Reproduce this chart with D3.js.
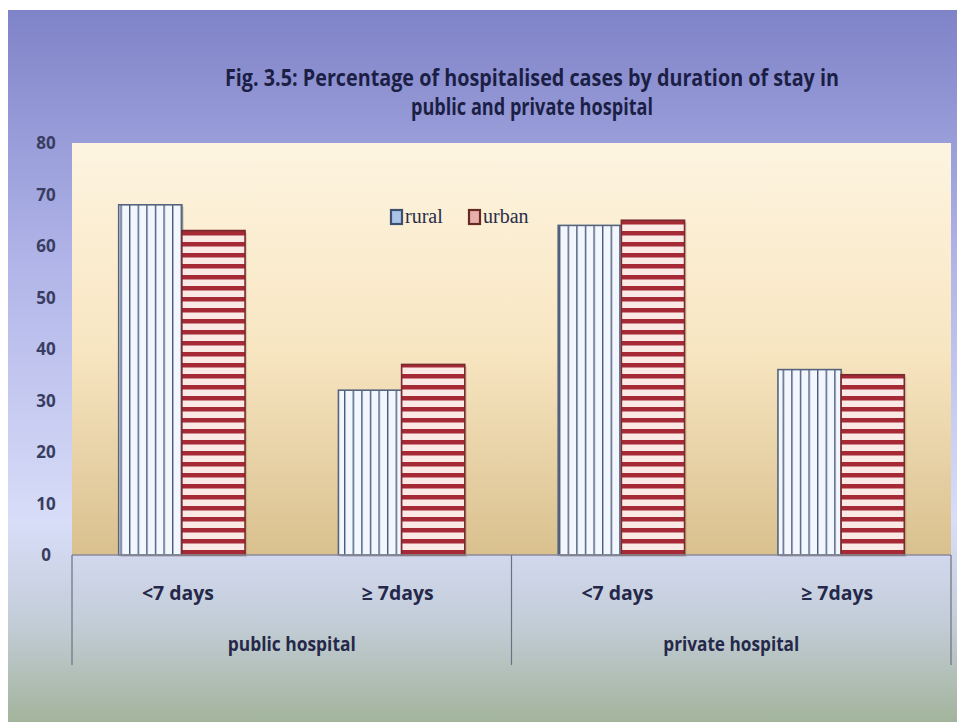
<!DOCTYPE html>
<html><head><meta charset="utf-8">
<script src="https://cdn.jsdelivr.net/npm/d3@7/dist/d3.min.js"></script>
<style>body{margin:0;background:#fff}svg{display:block}</style>
</head><body>
<svg id="c" width="957" height="722"></svg>
<script>
const groups = ["public hospital", "private hospital"];
const categories = ["<7 days", "≥ 7days", "<7 days", "≥ 7days"];
const series = ["rural", "urban"];
const rural = [68, 32, 64, 36];
const urban = [63, 37, 65, 35];
const yTicks = [0, 10, 20, 30, 40, 50, 60, 70, 80];
const titleLines = ["Fig. 3.5: Percentage of hospitalised cases by duration of stay in", "public and private hospital"];

const svg = d3.select("#c");
const W = 957, H = 722;
const F = "'Liberation Sans Narrow','Open Sans',sans-serif";
const defs = svg.append("defs");

// backgrounds
const bg = defs.append("linearGradient").attr("id","bg").attr("x1",0).attr("y1",0).attr("x2",0).attr("y2",1);
[[0,"#7f83c8"],[0.35,"#b0b4e8"],[0.72,"#d8ddf8"],[0.86,"#c3cdd8"],[1,"#a3b49c"]].forEach(s=>bg.append("stop").attr("offset",s[0]).attr("stop-color",s[1]));
const pg = defs.append("linearGradient").attr("id","pg").attr("x1",0).attr("y1",0).attr("x2",0).attr("y2",1);
[[0,"#fdf4e0"],[0.5,"#f8e6c2"],[1,"#d9c08e"]].forEach(s=>pg.append("stop").attr("offset",s[0]).attr("stop-color",s[1]));

// patterns
const pr = defs.append("pattern").attr("id","pRural").attr("patternUnits","userSpaceOnUse").attr("width",8.6).attr("height",10);
pr.append("rect").attr("width",8.6).attr("height",10).attr("fill","#f2f7fd");
pr.append("rect").attr("x",0).attr("width",1.4).attr("height",10).attr("fill","#4a5a7c");
const pu = defs.append("pattern").attr("id","pUrban").attr("patternUnits","userSpaceOnUse").attr("width",10).attr("height",11);
pu.append("rect").attr("width",10).attr("height",11).attr("fill","#fbe9e6");
pu.append("rect").attr("y",0).attr("width",10).attr("height",4.5).attr("fill","#a52a36");
const patt = {rural:"url(#pRural)", urban:"url(#pUrban)"};
const stroke = {rural:"#56647e", urban:"#7a2a2e"};

svg.append("rect").attr("x",8).attr("y",10).attr("width",W-8).attr("height",H-10).attr("fill","url(#bg)");

const x0 = 72, x1 = 951, yTop = 143, yBot = 555;
svg.append("rect").attr("x",x0).attr("y",yTop).attr("width",x1-x0).attr("height",yBot-yTop).attr("fill","url(#pg)");

const y = d3.scaleLinear().domain([0,80]).range([yBot, yTop]);
const x = d3.scaleBand().domain(d3.range(categories.length)).range([x0, x1]).paddingInner(0.425).paddingOuter(0.2125);
const xs = d3.scaleBand().domain(series).range([0, x.bandwidth()]);

// title
svg.append("g").selectAll("text").data(titleLines).join("text")
  .attr("x",532).attr("y",(d,i)=>86+i*29).attr("text-anchor","middle")
  .attr("font-family",F).attr("font-weight","bold").attr("font-size",23).attr("fill","#1c1f45")
  .attr("textLength",(d,i)=>i===0?614:242).attr("lengthAdjust","spacingAndGlyphs").text(d=>d);

// y axis labels
svg.append("g").selectAll("text").data(yTicks).join("text")
  .attr("x",46).attr("y",d=>y(d)+6).attr("text-anchor","middle")
  .attr("font-family",F).attr("font-weight","bold").attr("font-size",17).attr("fill","#3a3d62").text(d=>d);

// bars
const data = [];
categories.forEach((c,i)=>{ data.push({i, s:"rural", v:rural[i]}); data.push({i, s:"urban", v:urban[i]}); });
svg.append("g").selectAll("rect").data(data).join("rect")
  .attr("x",d=>x(d.i)+xs(d.s)+2).attr("y",d=>y(d.v)+2).attr("width",xs.bandwidth()).attr("height",d=>y(0)-y(d.v))
  .attr("fill","rgba(90,70,40,0.18)");
svg.append("g").selectAll("rect").data(data).join("rect")
  .attr("x",d=>x(d.i)+xs(d.s)).attr("y",d=>y(d.v)).attr("width",xs.bandwidth()).attr("height",d=>y(0)-y(d.v))
  .attr("fill",d=>patt[d.s]).attr("stroke",d=>stroke[d.s]).attr("stroke-width",1.6);

// axis line
svg.append("line").attr("x1",x0).attr("x2",x1).attr("y1",yBot).attr("y2",yBot).attr("stroke","#8a8a9a").attr("stroke-width",1.5);
// dividers
const gW = (x1-x0)/groups.length;
svg.append("g").selectAll("line").data(d3.range(groups.length+1)).join("line")
  .attr("x1",d=>x0+d*gW).attr("x2",d=>x0+d*gW).attr("y1",yBot).attr("y2",665)
  .attr("stroke","#6d7080").attr("stroke-width",1.2);

// category labels
svg.append("g").selectAll("text").data(categories).join("text")
  .attr("x",(d,i)=>x(i)+x.bandwidth()/2-4).attr("y",600).attr("text-anchor","middle")
  .attr("font-family",F).attr("font-weight","bold").attr("font-size",19).attr("fill","#25284a")
  .attr("textLength",72).attr("lengthAdjust","spacingAndGlyphs").text(d=>d);
svg.append("g").selectAll("text").data(groups).join("text")
  .attr("x",(d,i)=>x0+gW*(i+0.5)).attr("y",651).attr("text-anchor","middle")
  .attr("font-family",F).attr("font-weight","bold").attr("font-size",19).attr("fill","#25284a")
  .attr("textLength",(d,i)=>i===0?128:136).attr("lengthAdjust","spacingAndGlyphs").text(d=>d);

// legend
const lg = svg.append("g").attr("transform","translate(391,210)");
const items = [{s:"rural",x:0},{s:"urban",x:78}];
items.forEach(it=>{
  lg.append("rect").attr("x",it.x).attr("y",0).attr("width",11).attr("height",14)
    .attr("fill",it.s==="rural"?"#a9c4e6":"#e8b0ac").attr("stroke",it.s==="rural"?"#3d5070":"#6a2a24").attr("stroke-width",2.2);
  lg.append("text").attr("x",it.x+14).attr("y",13).attr("font-family","'Liberation Serif','DejaVu Serif',serif")
    .attr("font-size",20).attr("fill","#2a2d48").text(it.s);
});
</script>
</body></html>
